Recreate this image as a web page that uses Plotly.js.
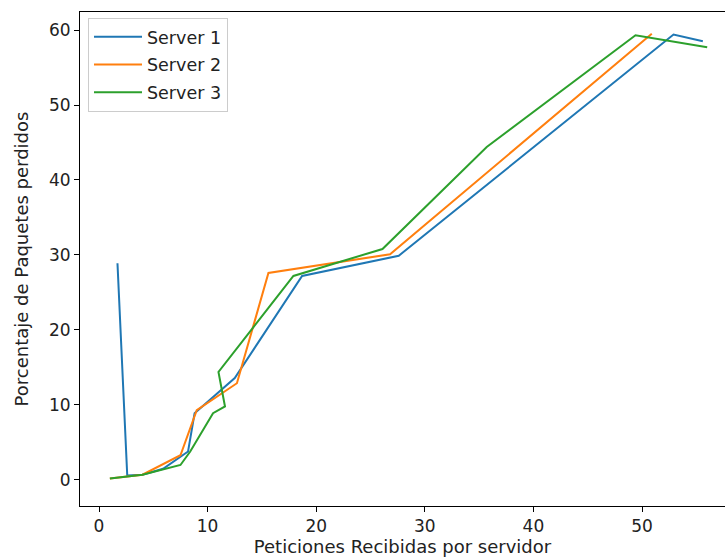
<!DOCTYPE html>
<html>
<head>
<meta charset="utf-8">
<script src="https://cdn.plot.ly/plotly-3.0.1.min.js"></script>
<style>html,body{margin:0;padding:0;background:#fff;}#chart{width:725px;height:557px;}</style>
</head>
<body>
<div id="chart"></div>
<script>
const server1X = [1.7, 2.6, 4.0, 5.9, 8.2, 8.8, 12.5, 18.7, 27.6, 52.9, 55.6];
const server1Y = [28.9, 0.6, 0.7, 1.5, 3.8, 8.9, 13.6, 27.2, 29.9, 59.4, 58.5];
const server2X = [1.0, 4.0, 7.5, 9.0, 12.7, 15.6, 26.8, 50.9];
const server2Y = [0.2, 0.7, 3.3, 9.3, 12.9, 27.6, 30.1, 59.5];
const server3X = [1.0, 4.0, 7.5, 8.4, 10.5, 11.6, 11.0, 17.9, 26.1, 35.7, 49.4, 56.0];
const server3Y = [0.2, 0.7, 2.0, 3.8, 8.9, 9.8, 14.4, 27.2, 30.8, 44.4, 59.3, 57.7];
const seriesNames = ["Server 1", "Server 2", "Server 3"];
const xTicks = [0, 10, 20, 30, 40, 50];
const yTicks = [0, 10, 20, 30, 40, 50, 60];

const colors = ["#1f77b4", "#ff7f0e", "#2ca02c"];
const xs = [server1X, server2X, server3X];
const ys = [server1Y, server2Y, server3Y];
const traces = xs.map((x, i) => ({
  x: x, y: ys[i], type: "scatter", mode: "lines", name: seriesNames[i],
  legendgroup: "g" + i,
  line: {color: colors[i], width: 2}
}));

const axisCommon = {
  showgrid: false, zeroline: false, showline: true, linecolor: "#000", linewidth: 1,
  ticks: "outside", ticklen: 5, tickcolor: "#000", tickwidth: 1,
  tickfont: {family: "DejaVu Sans", size: 17, color: "#222"}
};

const layout = {
  width: 725, height: 557,
  margin: {l: 80, r: 0, t: 12, b: 51},
  paper_bgcolor: "#fff", plot_bgcolor: "#fff",
  font: {family: "DejaVu Sans", color: "#222"},
  xaxis: Object.assign({}, axisCommon, {
    range: [-1.75, 57.64], tickvals: xTicks, mirror: true,
    title: {text: "Peticiones Recibidas por servidor", font: {size: 18, family: "DejaVu Sans", color: "#222"}, standoff: 4}
  }),
  yaxis: Object.assign({}, axisCommon, {
    range: [-3.47, 62.4], tickvals: yTicks,
    title: {text: "Porcentaje de Paquetes perdidos", font: {size: 18, family: "DejaVu Sans", color: "#222"}, standoff: 15}
  }),
  showlegend: true,
  legend: {
    x: 0.0124, y: 0.988, xanchor: "left", yanchor: "top",
    bgcolor: "rgba(255,255,255,0.8)", bordercolor: "#ccc", borderwidth: 1,
    font: {family: "DejaVu Sans", size: 17.5, color: "#222"},
    itemwidth: 48, traceorder: "grouped", tracegroupgap: 2
  }
};

Plotly.newPlot("chart", traces, layout, {displayModeBar: false, staticPlot: true});
</script>
</body>
</html>
